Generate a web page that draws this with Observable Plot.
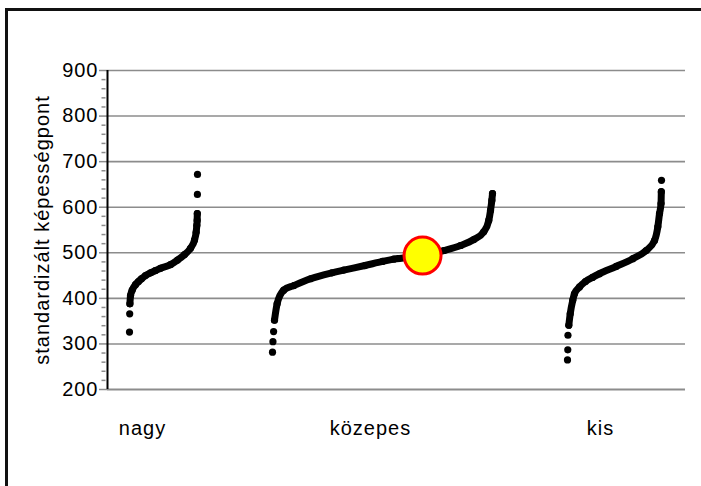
<!DOCTYPE html>
<html><head><meta charset="utf-8">
<script src="https://cdn.jsdelivr.net/npm/d3@7"></script>
<script src="https://cdn.jsdelivr.net/npm/@observablehq/plot@0.6"></script>
<style>
html,body{margin:0;padding:0;background:#fff;overflow:hidden;width:701px;height:486px}
#wrap{position:relative;width:701px;height:486px;overflow:hidden;background:#fff}
#topbar{position:absolute;left:5px;top:8px;width:800px;height:3px;background:#111}
#leftbar{position:absolute;left:5px;top:8px;width:3px;height:600px;background:#111}
#chart{position:absolute;left:0;top:0}
#chart svg text{font-size:20px !important;letter-spacing:1px;font-family:'Liberation Sans', Arial, sans-serif !important}
</style></head><body>
<div id="wrap"><div id="topbar"></div><div id="leftbar"></div><div id="chart"></div></div>
<script>
// categories (school size) and the percentile rank / score of each sorted point
const categories = ["nagy", "közepes", "kis"];

const nagyRank  = [0, 0.3, 0.6, 1.5, 4, 8.8, 13.2, 17.6, 23.5, 30.9, 38.2, 45.6, 60.3, 70.6, 80.9, 89.7, 95.6, 98, 99, 99.5, 99.7, 99.85, 100];
const nagyScore = [326, 366, 388, 406, 418, 430, 437, 443, 450, 456, 461, 466, 474, 484, 496, 510, 528, 545, 560, 571, 586, 628, 672];

const kozepesRank  = [0, 0.2, 0.5, 0.9, 2.1, 5.1, 9.7, 17.3, 27, 32.4, 42, 50, 55.1, 68.2, 77.9, 85.5, 91.5, 96, 98.3, 99.1, 99.7, 100];
const kozepesScore = [282, 305, 327, 352, 388, 418, 428, 443, 456, 462, 472, 481, 486, 494, 505, 516, 529, 546, 571, 593, 615, 630];

const kisRank  = [0, 0.3, 0.5, 1.4, 2.9, 5.6, 7.4, 12.8, 19.1, 26.6, 34, 51.8, 69.5, 83.7, 92.6, 96.1, 97.9, 99.5, 99.8, 100];
const kisScore = [265, 287, 319, 341, 366, 396, 410, 425, 437, 446, 454, 470, 487, 505, 527, 557, 586, 608, 634, 659];

// connected body of each curve (outside it the points stand alone)
const bodyLow  = [380, 340, 330];
const bodyHigh = [590, 635, 640];

// highlighted school
const highlightCategory = "közepes";
const highlightRank = 68.2;
const highlightScore = 494;

const yLabel = "standardizált képességpont";
const yMajorTicks = [200, 300, 400, 500, 600, 700, 800, 900];

// layout of the x index axis (number of index units per group, gaps)
const groupSize = [68, 220, 94];
const leadGap = 22, groupGap = 75, trailGap = 24;
const labelPos = [35, 263, 493];

const groupStart = [];
{ let s = leadGap; groupSize.forEach((n, i) => { groupStart.push(s); s += n + groupGap; }); }
const xMax = groupStart[2] + groupSize[2] + trailGap;

const ranks = [nagyRank, kozepesRank, kisRank];
const scores = [nagyScore, kozepesScore, kisScore];
const points = [];
categories.forEach((c, g) => {
  ranks[g].forEach((r, i) => points.push({
    group: c, x: groupStart[g] + r / 100 * groupSize[g], score: scores[g][i],
    body: scores[g][i] >= bodyLow[g] && scores[g][i] <= bodyHigh[g]
  }));
});
const hg = categories.indexOf(highlightCategory);
const highlight = [{x: groupStart[hg] + highlightRank / 100 * groupSize[hg], score: highlightScore}];

const minorTicks = d3.range(200, 901, 20).filter(v => v % 100 !== 0);

const chart = Plot.plot({
  width: 701, height: 486,
  marginLeft: 107, marginRight: 16, marginTop: 70, marginBottom: 97,
  style: {fontFamily: "'Liberation Sans', Arial, sans-serif", fontSize: "20px", background: "transparent", color: "#000", overflow: "visible"},
  x: {domain: [0, xMax], axis: null},
  y: {domain: [200, 900], axis: null},
  marks: [
    Plot.ruleY(yMajorTicks.filter(v => v > 200), {stroke: "#8c8c8c", strokeWidth: 1.6}),
    Plot.ruleY([200], {stroke: "#8c8c8c", strokeWidth: 2.2}),
    Plot.axisY(minorTicks, {tickSize: 4, dx: -1.5, text: null, stroke: "#8c8c8c", strokeWidth: 1.5, label: null}),
    Plot.axisY(yMajorTicks, {tickSize: 8, tickPadding: 1, stroke: "#8c8c8c", strokeWidth: 1.5, fill: "#000", label: null}),
    Plot.ruleX([0], {stroke: "#000", strokeWidth: 2}),
    Plot.axisX(labelPos, {tickSize: 0, tickPadding: 31, tickFormat: (d, i) => categories[i], label: null, fill: "#000"}),
    Plot.text([yLabel], {frameAnchor: "left", dx: -65, rotate: -90, textAnchor: "middle", text: d => d, fill: "#000"}),
    Plot.line(points.filter(d => d.body), {x: "x", y: "score", z: "group", stroke: "#000", strokeWidth: 7, strokeLinecap: "round", strokeLinejoin: "round", curve: "monotone-x"}),
    Plot.dot(points, {x: "x", y: "score", r: 3.6, fill: "#000"}),
    Plot.dot(highlight, {x: "x", y: "score", r: 18.5, fill: "#ffff00", stroke: "#ff0000", strokeWidth: 3})
  ]
});
document.getElementById("chart").appendChild(chart);
</script>
</body></html>
